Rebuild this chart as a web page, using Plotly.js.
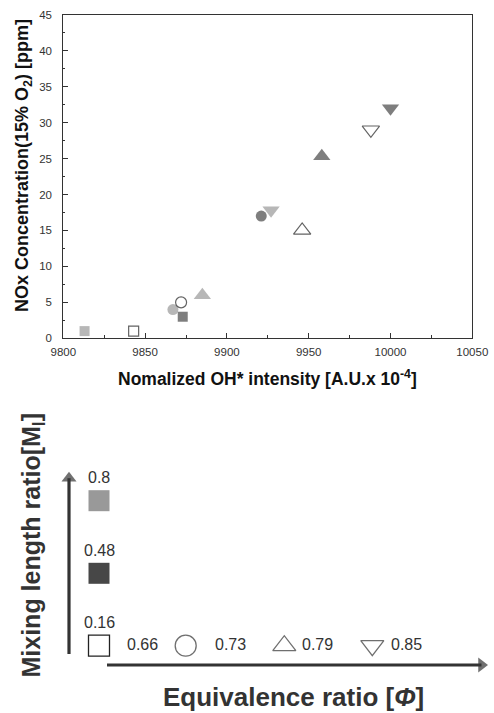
<!DOCTYPE html>
<html>
<head>
<meta charset="utf-8">
<script src="https://cdn.plot.ly/plotly-3.0.1.min.js"></script>
<style>
  html, body { margin: 0; padding: 0; background: #fff; }
  #chart { width: 494px; height: 713px; }
</style>
</head>
<body>
<div id="chart"></div>
<script>
// NOx emission vs. normalized OH* chemiluminescence intensity
// Each point: mixing length ratio (colour) and equivalence ratio (symbol)
const mixingRatio = [0.8, 0.16, 0.8, 0.16, 0.48, 0.8, 0.48, 0.8, 0.16, 0.48, 0.16, 0.48];
const equivRatio  = [0.66, 0.66, 0.73, 0.73, 0.66, 0.79, 0.73, 0.85, 0.79, 0.79, 0.85, 0.85];
const ohIntensity = [9813, 9843, 9867, 9872, 9873, 9885, 9921, 9927, 9946, 9958, 9988, 10000];
const noxPpm      = [1, 1, 4, 5, 3, 6, 17, 17.8, 15, 25.3, 29, 32];

// Key categories
const mixingLevels = [0.8, 0.48, 0.16];
const equivLevels  = [0.66, 0.73, 0.79, 0.85];
const mixingLabels = ['0.8', '0.48', '0.16'];
const equivLabels  = ['0.66', '0.73', '0.79', '0.85'];

// Styles
const symbolFor = {0.66: 'square', 0.73: 'circle', 0.79: 'triangle-up', 0.85: 'triangle-down'};
const sizeFor   = {0.66: 10, 0.73: 11, 0.79: 15, 0.85: 15};
const fillFor   = {0.8: '#999999', 0.48: '#474747', 0.16: '#ffffff'};
const edgeFor   = {0.8: '#999999', 0.48: '#474747', 0.16: '#222222'};

const W = 494, H = 713;
const px = x => x / W;
const py = y => 1 - y / H;

const traces = [];

// Main scatter, one trace per mixing ratio
mixingLevels.forEach(m => {
  const idx = mixingRatio.map((v, i) => v === m ? i : -1).filter(i => i >= 0);
  traces.push({
    type: 'scatter', mode: 'markers', xaxis: 'x', yaxis: 'y',
    x: idx.map(i => ohIntensity[i]),
    y: idx.map(i => noxPpm[i]),
    marker: {
      symbol: idx.map(i => symbolFor[equivRatio[i]]),
      size: idx.map(i => sizeFor[equivRatio[i]]),
      color: fillFor[m],
      line: {color: edgeFor[m], width: m === 0.16 ? 1.2 : 0}
    },
    hoverinfo: 'x+y', showlegend: false, cliponaxis: false
  });
});

// Key diagram laid out on a pixel-mapped subplot
const keyColX = 99;                         // column of mixing-ratio squares
const keyRowY = [500.7, 573.3, 645.7];      // rows for 0.8, 0.48, 0.16
const keySymX = [99, 185.7, 284.3, 372.3];  // symbol positions along the bottom row
const keyLblX = [142.7, 230, 317.7, 406.7]; // equivalence-ratio label positions

traces.push({
  type: 'scatter', mode: 'markers', xaxis: 'x2', yaxis: 'y2',
  x: mixingLevels.map(() => keyColX),
  y: keyRowY,
  marker: {
    symbol: 'square', size: 21,
    color: mixingLevels.map(m => fillFor[m]),
    line: {color: mixingLevels.map(m => edgeFor[m]), width: mixingLevels.map(m => m === 0.16 ? 1.3 : 0)}
  },
  hoverinfo: 'skip', showlegend: false, cliponaxis: false
});
traces.push({
  type: 'scatter', mode: 'markers', xaxis: 'x2', yaxis: 'y2',
  x: keySymX.slice(1),
  y: equivLevels.slice(1).map(() => keyRowY[2]),
  marker: {
    symbol: equivLevels.slice(1).map(e => symbolFor[e]),
    size: [21, 20, 20],
    color: '#ffffff',
    line: {color: '#333333', width: 1.3}
  },
  hoverinfo: 'skip', showlegend: false, cliponaxis: false
});

// Key arrows: a thick line capped by a filled triangular head
function arrowTrace(x0, y0, x1, y1, head) {
  return {
    type: 'scatter', mode: 'lines+markers', xaxis: 'x2', yaxis: 'y2',
    x: [x0, x1], y: [y0, y1],
    line: {color: '#333333', width: 3.2},
    marker: {symbol: ['circle', head], size: [0, 13], color: '#333333', line: {width: 0}},
    hoverinfo: 'skip', showlegend: false, cliponaxis: false
  };
}
traces.push(arrowTrace(69, 654, 69, 478.2, 'triangle-up'));
traces.push(arrowTrace(107, 665, 481.5, 665, 'triangle-right'));

const numFont = {family: 'Liberation Sans Narrow, Arial Narrow, Arial, sans-serif', size: 16, color: '#333'};
const annotations = [];

mixingLabels.forEach((t, i) => annotations.push({
  xref: 'x2', yref: 'y2', x: keyColX, y: keyRowY[i] - 23, text: t,
  showarrow: false, font: numFont, xanchor: 'center', yanchor: 'middle'
}));
equivLabels.forEach((t, i) => annotations.push({
  xref: 'x2', yref: 'y2', x: keyLblX[i], y: keyRowY[2] - 1, text: t,
  showarrow: false, font: numFont, xanchor: 'center', yanchor: 'middle'
}));

// Key axis titles
annotations.push({
  xref: 'paper', yref: 'paper', x: px(293), y: py(697),
  text: 'Equivalence ratio [<i>Φ</i>]', showarrow: false,
  font: {family: 'Arial, Liberation Sans, sans-serif', size: 26, color: '#333', weight: 'bold'},
  xanchor: 'center', yanchor: 'middle'
});
annotations.push({
  xref: 'paper', yref: 'paper', x: px(32), y: py(545.5),
  text: 'Mixing length ratio[M<sub>l</sub>]', showarrow: false, textangle: -90,
  font: {family: 'Arial, Liberation Sans, sans-serif', size: 25, color: '#333', weight: 'bold'},
  xanchor: 'center', yanchor: 'middle'
});

// Main plot axis titles
annotations.push({
  xref: 'paper', yref: 'paper', x: px(267.5), y: py(378),
  text: 'Nomalized OH* intensity [A.U.x 10<sup>-4</sup>]', showarrow: false,
  font: {family: 'Arial, Liberation Sans, sans-serif', size: 17.5, color: '#111', weight: 'bold'},
  xanchor: 'center', yanchor: 'middle'
});
annotations.push({
  xref: 'paper', yref: 'paper', x: px(24), y: py(166),
  text: 'NOx Concentration(15% O<sub>2</sub>) [ppm]', showarrow: false, textangle: -90,
  font: {family: 'Arial, Liberation Sans, sans-serif', size: 18, color: '#111', weight: 'bold'},
  xanchor: 'center', yanchor: 'middle'
});

const tickFont = {family: 'Arial, Liberation Sans, sans-serif', size: 11.5, color: '#333'};

const layout = {
  width: W, height: H,
  margin: {l: 0, r: 0, t: 0, b: 0},
  paper_bgcolor: '#fff', plot_bgcolor: 'rgba(0,0,0,0)',
  showlegend: false,
  xaxis: {
    domain: [px(63.3), px(472.3)],
    range: [9800, 10050], dtick: 50, tick0: 9800, tickformat: 'd',
    ticks: 'inside', ticklen: 5, tickwidth: 1, tickcolor: '#333',
    minor: {dtick: 25, ticks: 'inside', ticklen: 3, tickcolor: '#333'},
    showgrid: false, zeroline: false,
    showline: true, linecolor: '#333', linewidth: 1, mirror: true,
    tickfont: tickFont, ticklabelstandoff: 3, anchor: 'y'
  },
  yaxis: {
    domain: [py(338.3), py(14.7)],
    range: [0, 45], dtick: 5, tick0: 0, tickformat: 'd',
    ticks: 'inside', ticklen: 5, tickwidth: 1, tickcolor: '#333',
    minor: {dtick: 2.5, ticks: 'inside', ticklen: 2, tickcolor: '#333'},
    showgrid: false, zeroline: false,
    showline: true, linecolor: '#333', linewidth: 1, mirror: true,
    tickfont: tickFont, ticklabelstandoff: 8, anchor: 'x'
  },
  xaxis2: {
    domain: [0, 1], range: [0, W], visible: false, fixedrange: true, anchor: 'y2'
  },
  yaxis2: {
    domain: [0, py(428)], range: [H, 428], visible: false, fixedrange: true, anchor: 'x2'
  },
  annotations: annotations
};

Plotly.newPlot('chart', traces, layout, {displayModeBar: false, staticPlot: true});
</script>
</body>
</html>
